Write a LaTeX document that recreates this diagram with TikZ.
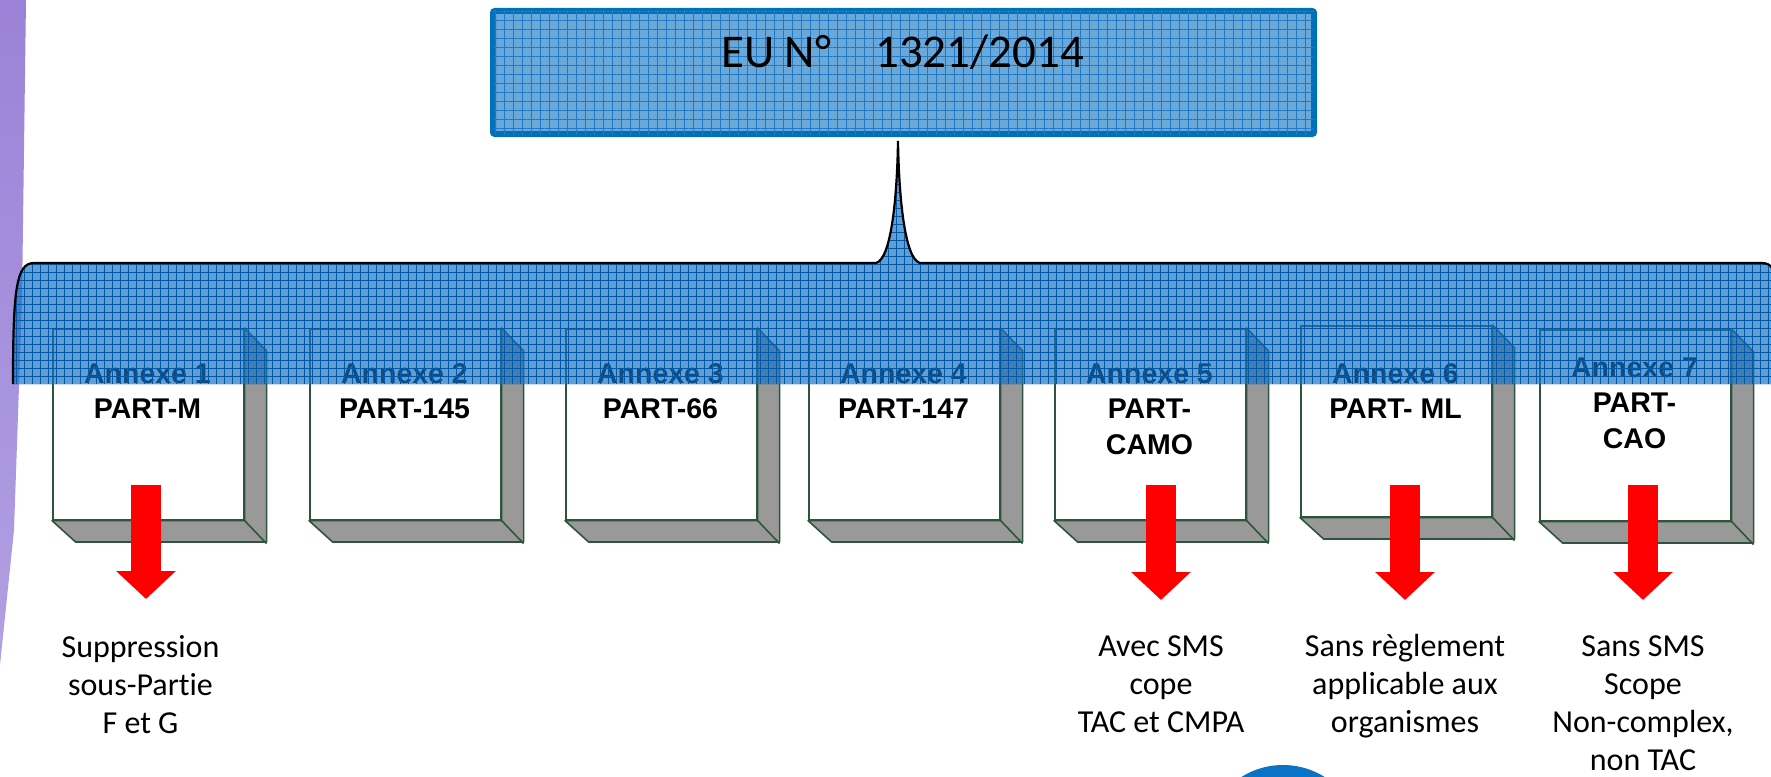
\documentclass[tikz,border=0pt]{standalone}
\usepackage{fontspec}
\setmainfont{Carlito}[Ligatures=NoCommon]
\newfontfamily\arialfont{Liberation Sans}
\usetikzlibrary{arrows.meta,patterns.meta}
\definecolor{boxline}{RGB}{45,85,60}
\definecolor{facegray}{RGB}{153,153,153}
\definecolor{arrowred}{RGB}{255,0,0}
\definecolor{bandbase}{RGB}{25,112,192}
\definecolor{bandline}{RGB}{0,90,170}
\definecolor{eublue}{RGB}{0,112,184}
\definecolor{eufill}{RGB}{105,168,216}
\definecolor{euline}{RGB}{30,120,195}
\definecolor{purpleA}{RGB}{155,130,216}
\definecolor{purpleB}{RGB}{178,160,226}
\definecolor{circblue}{RGB}{10,115,195}
\newcommand{\stackln}[1]{\begin{tabular}[t]{@{}c@{}}#1\end{tabular}}
\newcommand{\bandpath}{(13,384) .. controls (13,290) and (16,263) .. (34,263) -- (876,263) .. controls (891,259) and (897,200) .. (898,141) .. controls (899,200) and (905,259) .. (920,263) -- (1762,263) .. controls (1780,263) and (1783,290) .. (1783,384) -- cycle}
\begin{document}
\begin{tikzpicture}[x=1pt,y=-1pt,
  annexbox/.style={draw=boxline, line width=1.6pt, fill=white, minimum width=191pt, minimum height=191pt, inner sep=0pt, anchor=north west},
  depthface/.style={draw=boxline, line width=1.6pt, fill=facegray, line join=round},
  annextext/.style={font=\arialfont\bfseries\fontsize{28.5}{35.5}\selectfont, anchor=base, inner sep=0pt, text=black},
  note/.style={font=\fontsize{32}{38.2}\selectfont, anchor=base, inner sep=0pt},
  redarrow/.style={draw=arrowred, line width=30pt, -{Triangle[width=58pt,length=28pt]}},
  eubox/.style={draw=eublue, line width=6pt, fill=eufill, minimum width=821pt, minimum height=123pt, rounded corners=2pt, inner sep=0pt},
  braceline/.style={draw=black, line width=2.2pt},
]
\useasboundingbox (0,0) rectangle (1771,776);
\fill[white] (0,0) rectangle (1771,776);

% left purple strip
\shade[top color=purpleA, bottom color=purpleB] (0,0) -- (26,0) -- (22,300) -- (14,530) -- (0,665) -- cycle;

% bottom circle
\fill[circblue] (1283,843) circle[radius=78pt];

% boxes
\foreach \i/\x/\y in {1/52/328, 2/309/328, 3/565/328, 4/808/328, 5/1054/328, 6/1300/325, 7/1539/329} {
  \node[annexbox] (b\i) at (\x,\y) {};
  \draw[depthface] (b\i.north east) -- ++(22,23) -- ++(0,191) -- ++(-191,0) -- (b\i.south west) -- (b\i.south east) -- cycle;
  \draw[boxline, line width=1.6pt] (b\i.south east) -- ++(22,23);
}

% box texts
\node[annextext] (t1) at (147.5,383) {\stackln{Annexe 1\\PART-M}};
\node[annextext] (t2) at (404.5,383) {\stackln{Annexe 2\\PART-145}};
\node[annextext] (t3) at (660.5,383) {\stackln{Annexe 3\\PART-66}};
\node[annextext] (t4) at (903.5,383) {\stackln{Annexe 4\\PART-147}};
\node[annextext] (t5) at (1149.5,383) {\stackln{Annexe 5\\PART-\\CAMO}};
\node[annextext] (t6) at (1395.5,383) {\stackln{Annexe 6\\PART- ML}};
\node[annextext] (t7) at (1634.5,377) {\stackln{Annexe 7\\PART-\\CAO}};

% red arrows
\coordinate (a1s) at (146,485);  \coordinate (a1e) at (146,599);
\coordinate (a5s) at (1161,485); \coordinate (a5e) at (1161,600);
\coordinate (a6s) at (1405,485); \coordinate (a6e) at (1405,600);
\coordinate (a7s) at (1643,485); \coordinate (a7e) at (1643,600);
\draw[redarrow] (a1s) -- (a1e);
\draw[redarrow] (a5s) -- (a5e);
\draw[redarrow] (a6s) -- (a6e);
\draw[redarrow] (a7s) -- (a7e);

% notes
\node[note] (n1) at (140.5,657) {\stackln{Suppression\\sous-Partie\\F et G}};
\node[note] (n5) at (1161,656) {\stackln{Avec SMS\\cope\\TAC et CMPA}};
\node[note] (n6) at (1405,656) {\stackln{Sans règlement\\applicable aux\\organismes}};
\node[note] (n7) at (1643,656) {\stackln{Sans SMS\\Scope\\Non-complex,\\non TAC}};

% translucent brace band
\fill[bandbase, fill opacity=0.68] \bandpath;
\fill[pattern={Hatch[distance=8pt,line width=0.6pt]}, pattern color=bandline, fill opacity=0.3] \bandpath;
\draw[braceline] (13,384) .. controls (13,290) and (16,263) .. (34,263) -- (876,263) .. controls (891,259) and (897,200) .. (898,141) .. controls (899,200) and (905,259) .. (920,263) -- (1762,263) .. controls (1780,263) and (1783,290) .. (1783,384);

% top box
\node[eubox] (eu) at (903.5,72.5) {};
\fill[pattern={Hatch[distance=9pt,line width=0.6pt]}, pattern color=euline, fill opacity=0.5] ([shift={(3,-3)}]eu.south west) rectangle ([shift={(-3,3)}]eu.north east);
\node[anchor=base west, inner sep=0pt, font=\fontsize{47}{56}\selectfont] (eutitle) at (721,67) {EU N°\hspace{44pt}1321/2014};
\end{tikzpicture}
\end{document}
